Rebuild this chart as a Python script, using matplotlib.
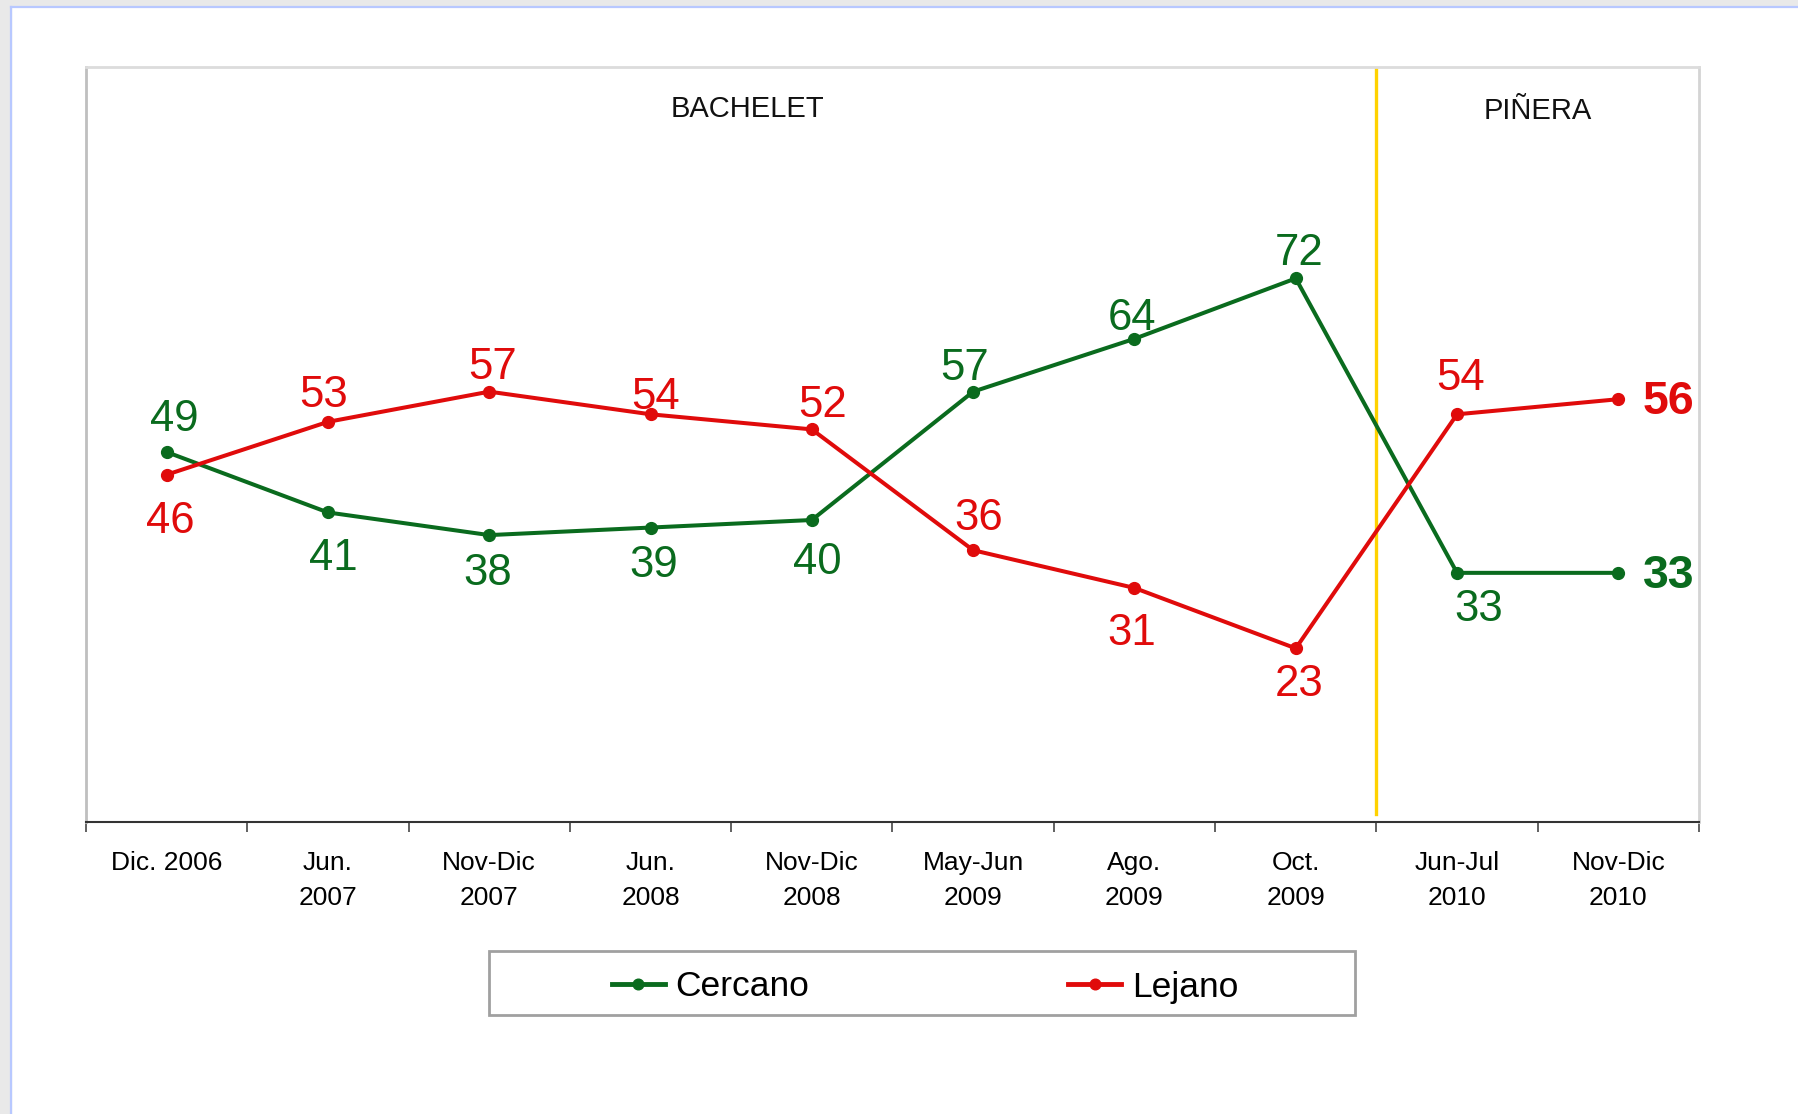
import numpy as np
import matplotlib
matplotlib.use('Agg')
import matplotlib.pyplot as plt
from matplotlib.patches import Rectangle
from matplotlib.lines import Line2D

plt.rcParams['font.family'] = ['Liberation Sans', 'DejaVu Sans']

periods = ['Dic. 2006', 'Jun.\n2007', 'Nov-Dic\n2007', 'Jun.\n2008', 'Nov-Dic\n2008',
           'May-Jun\n2009', 'Ago.\n2009', 'Oct.\n2009', 'Jun-Jul\n2010', 'Nov-Dic\n2010']
cercano = [49, 41, 38, 39, 40, 57, 64, 72, 33, 33]
lejano = [46, 53, 57, 54, 52, 36, 31, 23, 54, 56]

# label offsets in pixels (dx, dy)
off_c = [(8, 33), (5, -46), (-2, -38), (3, -38), (5, -42), (-9, 23), (-2, 20), (3, 25), (22, -37), (50, -3)]
off_l = [(4, -47), (-4, 26), (3, 24), (5, 17), (11, 24), (6, 32), (-3, -46), (3, -36), (3, 36), (50, -3)]

GREEN = '#0a6b1e'
RED = '#e00b0b'
W, H = 1799, 1114

fig = plt.figure(figsize=(W / 100, H / 100), dpi=100)
fig.patch.set_facecolor('white')
# window frame bits
fig.add_artist(Rectangle((0, 0), 11 / W, 1, transform=fig.transFigure, color='#e9e9e9', zorder=0))
fig.add_artist(Rectangle((0, 1 - 6 / H), 1, 6 / H, transform=fig.transFigure, color='#e9e9e9', zorder=0))
fig.add_artist(Line2D([11.5 / W, 11.5 / W], [0, 1 - 6.5 / H], transform=fig.transFigure, color='#b8c8ff', lw=1.6))
fig.add_artist(Line2D([11.5 / W, 1], [1 - 6.5 / H, 1 - 6.5 / H], transform=fig.transFigure, color='#b8c8ff', lw=1.6))

ax = fig.add_axes([86 / W, 1 - 822 / H, (1699 - 86) / W, (822 - 67) / H])
x = np.arange(len(periods))

ax.plot(x, cercano, '-o', color=GREEN, lw=2.9, ms=8.5, label='Cercano', zorder=3)
ax.plot(x, lejano, '-o', color=RED, lw=2.9, ms=8.5, label='Lejano', zorder=3)
ax.plot([7.5, 7.5], [1, 100], color='#ffd200', lw=2.4, zorder=2)

n = len(periods)
for i in range(n):
    bold = i == n - 1
    for vals, offs, col in ((cercano, off_c, GREEN), (lejano, off_l, RED)):
        ax.annotate(str(vals[i]), (x[i], vals[i]), xytext=offs[i], textcoords='offset pixels',
                    ha='center', va='center', color=col,
                    fontsize=33.5 if bold else 31.5, fontweight='bold' if bold else 'normal')

ax.text(3.6, 94.4, 'BACHELET', ha='center', va='center', fontsize=21, color='#111111')
ax.text(8.5, 94.2, 'PIÑERA', ha='center', va='center', fontsize=21, color='#111111')

ax.set_xlim(-0.5, n - 0.5)
ax.set_ylim(0, 100)
ax.set_yticks([])
ax.set_xticks(x)
ax.set_xticklabels(periods, fontsize=19, linespacing=1.55)
ax.set_xticks(np.arange(-0.5, n, 1), minor=True)
ax.tick_params(axis='x', which='major', length=0, pad=21)
ax.tick_params(axis='x', which='minor', length=7, width=1.3, color='#555555', direction='out')

ax.spines['left'].set_color('#bfbfbf')
ax.spines['top'].set_color('#dcdcdc')
ax.spines['right'].set_color('#d4d4d4')
ax.spines['bottom'].set_color('#333333')
ax.spines['bottom'].set_linewidth(1.5)
for s in ('left', 'top', 'right'):
    ax.spines[s].set_linewidth(2)

# legend box
fig.add_artist(Rectangle((489 / W, 1 - 1015 / H), (1355 - 489) / W, 64 / H, transform=fig.transFigure,
                         facecolor='white', edgecolor='#a0a0a0', lw=2, zorder=1))
leg = fig.legend(loc='center', bbox_to_anchor=(925 / W, 1 - 987 / H), ncol=2, frameon=False,
                 fontsize=25.5, handlelength=1.5, handletextpad=0.3, columnspacing=7.3,
                 markerscale=0.9)
for h in leg.legend_handles:
    h.set_linewidth(3.5)

fig.savefig('out.png', dpi=100)
